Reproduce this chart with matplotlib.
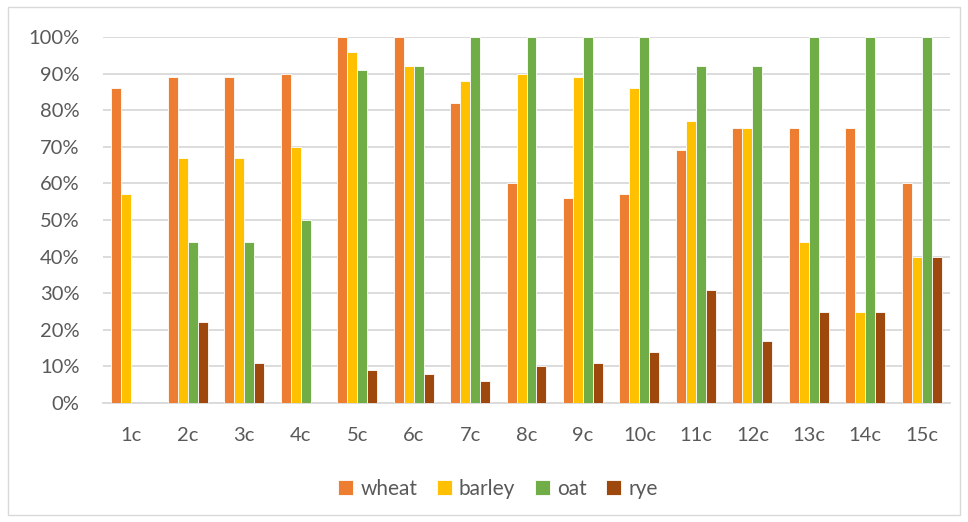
import numpy as np
import matplotlib
matplotlib.use("Agg")
import matplotlib.pyplot as plt
from matplotlib.patches import Rectangle
from matplotlib.ticker import PercentFormatter


categories = ["1c", "2c", "3c", "4c", "5c", "6c", "7c", "8c",
              "9c", "10c", "11c", "12c", "13c", "14c", "15c"]
wheat = [86, 89, 89, 90, 100, 100, 82, 60, 56, 57, 69, 75, 75, 75, 60]
barley = [57, 67, 67, 70, 96, 92, 88, 90, 89, 86, 77, 75, 44, 25, 40]
oat = [0, 44, 44, 50, 91, 92, 100, 100, 100, 100, 92, 92, 100, 100, 100]
rye = [0, 22, 11, 0, 9, 8, 6, 10, 11, 14, 31, 17, 25, 25, 40]

series = [("wheat", wheat, "#ED7D31"),
          ("barley", barley, "#FFC000"),
          ("oat", oat, "#70AD47"),
          ("rye", rye, "#9E480E")]

plt.rcParams["font.family"] = ["Lato", "DejaVu Sans"]
text_color = "#595959"
grid_color = "#D9D9D9"

fig = plt.figure(figsize=(9.68, 5.22), dpi=100)
fig.patches.append(Rectangle((8 / 968, 7 / 522), 952 / 968, 508 / 522,
                             transform=fig.transFigure, fill=False,
                             edgecolor=grid_color, linewidth=1))
ax = fig.add_axes([103 / 968, 1 - 403 / 522, 847 / 968, 366 / 522])

x = np.arange(len(categories))
width = 0.177
for i, (name, vals, color) in enumerate(series):
    ax.bar(x + (i - 1.5) * width, vals, width, color=color, label=name,
           edgecolor="white", linewidth=0.6, zorder=3)

ax.set_xlim(-0.5, len(categories) - 0.5)
ax.set_ylim(0, 100)
ax.set_yticks(range(0, 101, 10))
ax.yaxis.set_major_formatter(PercentFormatter(decimals=0))
ax.set_xticks(x)
ax.set_xticklabels(categories)
ax.grid(axis="y", color=grid_color, linewidth=1.3, zorder=0)
ax.tick_params(axis="both", length=0, labelsize=14.5, colors=text_color)
ax.tick_params(axis="y", pad=17)
ax.tick_params(axis="x", pad=17)
for side in ["top", "right", "left"]:
    ax.spines[side].set_visible(False)
ax.spines["bottom"].set_color(grid_color)
ax.spines["bottom"].set_linewidth(1.3)

fig.legend(loc="center", bbox_to_anchor=(498 / 968, 1 - 489 / 522), ncol=4,
           frameon=False, fontsize=15, labelcolor=text_color,
           handlelength=0.7, handleheight=0.7, handletextpad=0.35,
           columnspacing=0.95)

fig.savefig("out.png", dpi=100)
